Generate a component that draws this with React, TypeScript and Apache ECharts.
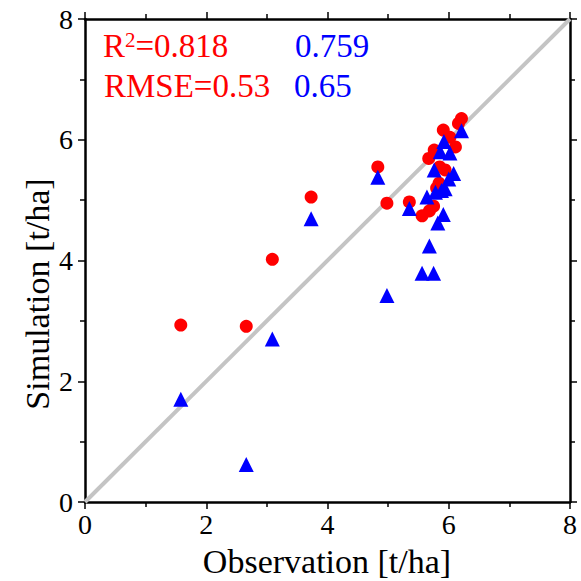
import React, { useEffect, useRef } from "react";
import * as echarts from "echarts";

const redPoints: number[][] = [
  [1.58, 2.93], [2.66, 2.91], [3.09, 4.02], [3.73, 5.05], [4.83, 5.55],
  [4.98, 4.95], [5.35, 4.97], [5.56, 4.74], [5.68, 4.82], [5.75, 4.90],
  [5.67, 5.69], [5.76, 5.83], [5.91, 6.16], [6.02, 6.04], [6.11, 5.88],
  [6.21, 6.35], [6.16, 6.27], [5.85, 5.55], [5.94, 5.50], [5.84, 5.28],
  [5.80, 5.20],
];
const bluePoints: number[][] = [
  [1.58, 1.70], [2.66, 0.62], [3.09, 2.70], [3.73, 4.69], [4.83, 5.38],
  [4.98, 3.42], [5.35, 4.86], [5.56, 3.79], [5.68, 4.24], [5.75, 3.79],
  [5.64, 5.05], [5.76, 5.50], [5.92, 5.97], [6.02, 5.78], [6.08, 5.44],
  [6.21, 6.15], [5.86, 5.80], [6.00, 5.35], [5.94, 5.19], [5.88, 5.16],
  [5.78, 5.13], [5.91, 4.76], [5.82, 4.62],
];
const oneToOne: number[][] = [[0, 0], [8, 8]];
const redStats = { r2: "0.818", rmse: "0.53" };
const blueStats = { r2: "0.759", rmse: "0.65" };
const xTitle = "Observation [t/ha]";
const yTitle = "Simulation [t/ha]";

const FONT = "Liberation Serif";

export default function App() {
  const ref = useRef<HTMLDivElement>(null);
  useEffect(() => {
    if (!ref.current) return;
    const chart = echarts.init(ref.current, null, { renderer: "svg" });
    const axisCommon = {
      type: "value" as const,
      min: 0,
      max: 8,
      interval: 2,
      axisLine: { show: true, onZero: false, lineStyle: { color: "#000", width: 2.5 } },
      axisTick: { show: true, inside: false, length: 7, lineStyle: { color: "#000", width: 1.5 } },
      minorTick: { show: true, splitNumber: 2, length: 5, lineStyle: { color: "#000", width: 1.5 } },
      splitLine: { show: false },
    };
    chart.setOption({
      animation: false,
      backgroundColor: "#fff",
      grid: { left: 85, right: 11, top: 19, bottom: 79 },
      xAxis: [
        {
          ...axisCommon,
          position: "bottom",
          axisLabel: { show: true, color: "#000", fontFamily: FONT, fontSize: 28, margin: 8 },
        },
        {
          ...axisCommon,
          position: "top",
          axisLabel: { show: false },
        },
      ],
      yAxis: [
        {
          ...axisCommon,
          position: "left",
          axisLabel: { show: true, color: "#000", fontFamily: FONT, fontSize: 28, margin: 12 },
        },
        {
          ...axisCommon,
          position: "right",
          axisLabel: { show: false },
        },
      ],
      series: [
        {
          type: "line",
          data: oneToOne,
          symbol: "none",
          lineStyle: { color: "#c4c4c4", width: 4 },
          z: 1,
          silent: true,
        },
        {
          type: "scatter",
          data: redPoints,
          symbol: "circle",
          symbolSize: 13,
          itemStyle: { color: "#ff0000", opacity: 1 },
          z: 2,
        },
        {
          type: "scatter",
          data: bluePoints,
          symbol: "triangle",
          symbolSize: 15,
          itemStyle: { color: "#0000ff", opacity: 1 },
          z: 3,
        },
      ],
      graphic: [
        {
          type: "text",
          left: 103,
          top: 29,
          style: {
            text: "{m|R}{s|2}{m|=" + redStats.r2 + "}",
            rich: {
              m: { fontFamily: FONT, fontSize: 33, fill: "#ff0000", verticalAlign: "bottom", height: 33 },
              s: { fontFamily: FONT, fontSize: 21, fill: "#ff0000", verticalAlign: "top", padding: [0, 0, 11, 0] },
            },
          },
        },
        {
          type: "text",
          left: 104,
          top: 69,
          style: { text: "RMSE=" + redStats.rmse, fontFamily: FONT, fontSize: 33, fill: "#ff0000" },
        },
        {
          type: "text",
          left: 295,
          top: 29,
          style: { text: blueStats.r2, fontFamily: FONT, fontSize: 33, fill: "#0000ff" },
        },
        {
          type: "text",
          left: 294,
          top: 69,
          style: { text: blueStats.rmse, fontFamily: FONT, fontSize: 33, fill: "#0000ff" },
        },
        {
          type: "text",
          x: 327,
          y: 561,
          style: { text: xTitle, fontFamily: FONT, fontSize: 34, fill: "#000", align: "center", verticalAlign: "middle" },
        },
        {
          type: "text",
          x: 37,
          y: 294,
          rotation: Math.PI / 2,
          style: { text: yTitle, fontFamily: FONT, fontSize: 34, fill: "#000", align: "center", verticalAlign: "middle" },
        },
      ],
    });
    return () => chart.dispose();
  }, []);
  return <div ref={ref} style={{ width: 581, height: 581, position: "absolute", left: 0, top: 0 }} />;
}
